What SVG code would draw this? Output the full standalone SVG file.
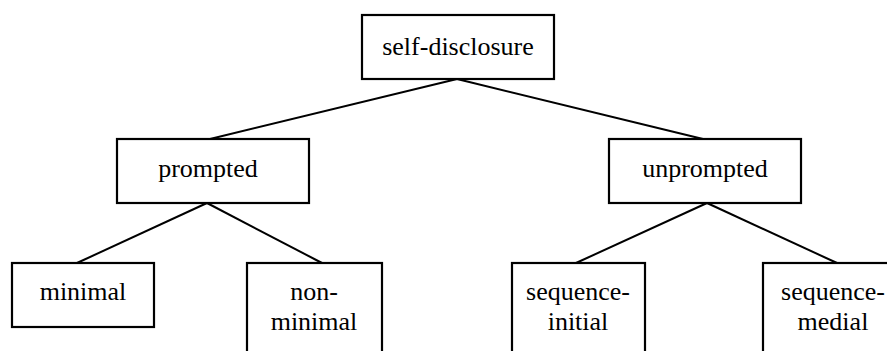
<svg xmlns="http://www.w3.org/2000/svg" width="887" height="351" viewBox="0 0 887 351">
<style>
rect{fill:#fff;stroke:#000;stroke-width:2.2}
.e line{stroke:#000;stroke-width:2}
text{font-family:'Liberation Serif','DejaVu Serif',serif;font-size:26px;fill:#000;text-anchor:middle}
</style>
<rect x="0" y="0" width="887" height="351" style="stroke:none"/>
<g class="e" id="connectors">
<line x1="457" y1="79" x2="210" y2="139"/>
<line x1="457" y1="79" x2="703" y2="139"/>
<line x1="207" y1="203" x2="77" y2="263"/>
<line x1="207" y1="203" x2="322" y2="263"/>
<line x1="707" y1="203" x2="576" y2="263"/>
<line x1="707" y1="203" x2="837" y2="263"/>
</g>
<g id="self-disclosure"><rect x="362" y="15" width="192" height="64"/><text x="458" y="55">self-disclosure</text></g>
<g id="prompted"><rect x="117" y="139" width="192" height="64"/><text x="208" y="177">prompted</text></g>
<g id="unprompted"><rect x="609" y="139" width="192" height="64"/><text x="705" y="177">unprompted</text></g>
<g id="minimal"><rect x="12" y="263" width="142" height="64"/><text x="83" y="300">minimal</text></g>
<g id="non-minimal"><rect x="247" y="263" width="135" height="100"/><text x="314" y="300">non-</text><text x="314" y="330">minimal</text></g>
<g id="sequence-initial"><rect x="512" y="263" width="133" height="100"/><text x="578" y="300">sequence-</text><text x="578" y="330">initial</text></g>
<g id="sequence-medial"><rect x="763" y="263" width="140" height="100"/><text x="833" y="300">sequence-</text><text x="833" y="330">medial</text></g>
</svg>
